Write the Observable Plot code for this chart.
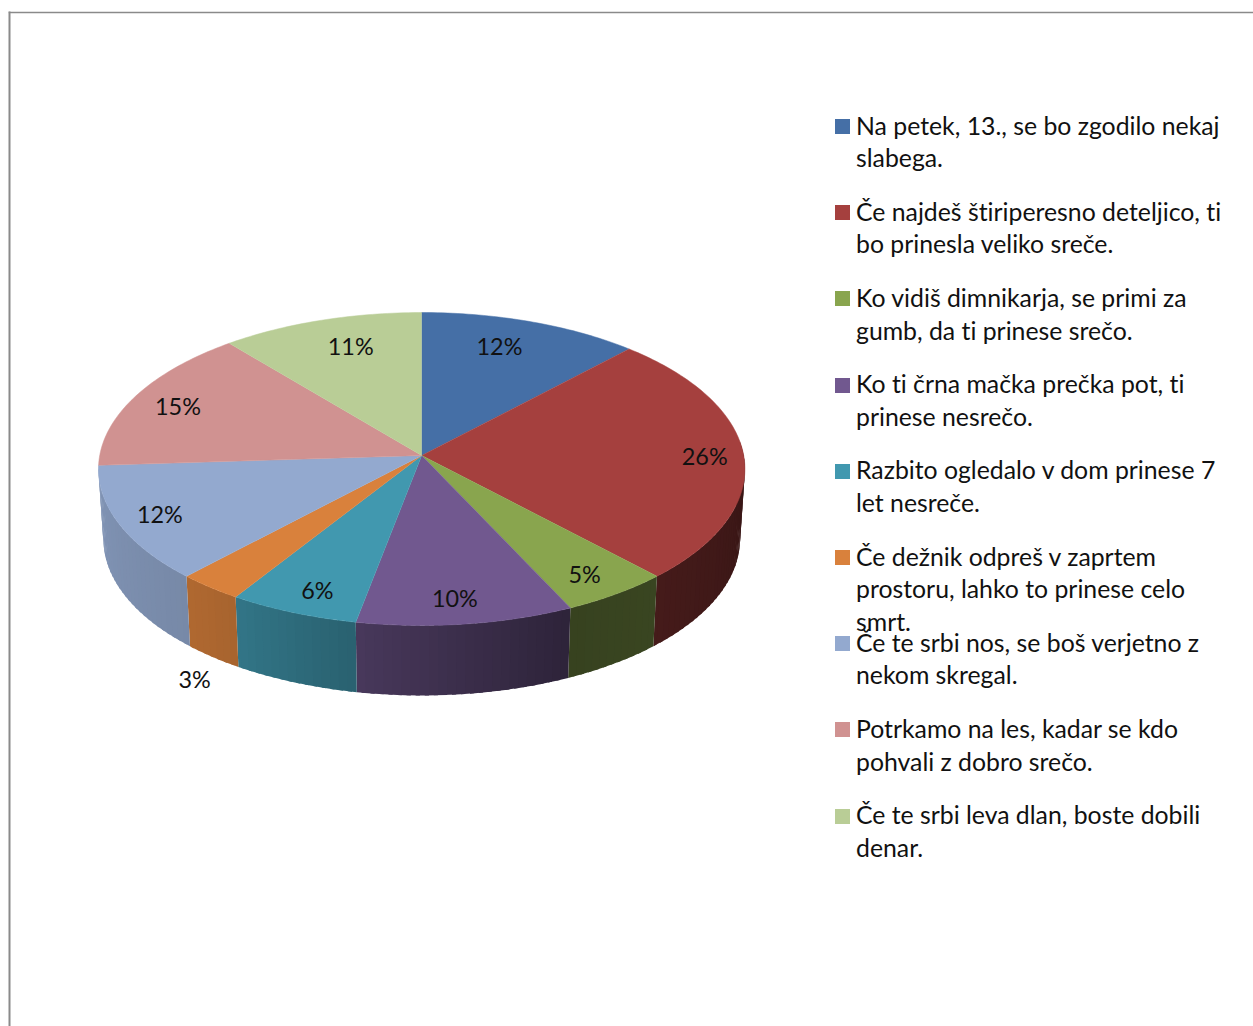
<!DOCTYPE html>
<html><head><meta charset="utf-8">
<script src="https://cdn.jsdelivr.net/npm/d3@7"></script>
<script src="https://cdn.jsdelivr.net/npm/@observablehq/plot@0.6"></script>
<style>
html,body{margin:0;padding:0;background:#fff;overflow:hidden}
#wrap{position:relative;width:1253px;height:1026px}
svg{display:block}
.row{position:absolute;left:835px;width:410px}
.sw{position:absolute;left:0;top:0;width:15px;height:15px}
.tx{position:absolute;left:21px;top:-9.4px;white-space:pre;font:24.8px/32.6px Lato,sans-serif;font-variant-ligatures:none;color:#111}
</style></head><body><div id="wrap"></div>
<script>
const categories = [
  "Na petek, 13., se bo zgodilo nekaj\nslabega.",
  "Če najdeš štiriperesno deteljico, ti\nbo prinesla veliko sreče.",
  "Ko vidiš dimnikarja, se primi za\ngumb, da ti prinese srečo.",
  "Ko ti črna mačka prečka pot, ti\nprinese nesrečo.",
  "Razbito ogledalo v dom prinese 7\nlet nesreče.",
  "Če dežnik odpreš v zaprtem\nprostoru, lahko to prinese celo\nsmrt.",
  "Če te srbi nos, se boš verjetno z\nnekom skregal.",
  "Potrkamo na les, kadar se kdo\npohvali z dobro srečo.",
  "Če te srbi leva dlan, boste dobili\ndenar."
];
const values = [12, 26, 5, 10, 6, 3, 12, 15, 11];
const colors = ["#456FA6","#A5403E","#89A54E","#71588F","#4198AF","#D9813C","#93A9CF","#D09291","#B9CD96"];
// label placement relative to each slice: radial reach and turn (degrees) from mid-angle
const labelReach = [0.785, 0.878, 0.868, 0.864, 0.868, 1.43, 0.871, 0.84, 0.776];
const labelTurn  = [-2.5, 0.84, 1.1, 0.87, -1.3, -11.8, -0.2, -1.2, 2.2];
// wall shading: clockwise angle from top -> brightness
const shadeAngle = [85, 137, 155, 191, 212, 223, 267];
const shadeLevel = [0.32, 0.42, 0.40, 0.64, 0.77, 0.81, 0.88];
const perspective = 0.0863, wallDrop = 70 / 155.3, wallShrink = 0.985;
const wallStart = 85, wallEnd = 266.4;

const shade = d3.scaleLinear(shadeAngle, shadeLevel);
const rad = d => d * Math.PI / 180;
function project(angle, r = 1) {
  const u = r * Math.sin(rad(angle)), v = -r * Math.cos(rad(angle));
  const s = 1 / (1 - perspective * v);
  return {x: u * s, y: v * s};
}
const total = d3.sum(values);
let cum = 0;
const slices = values.map((value, i) => {
  const a0 = cum / total * 360; cum += value; const a1 = cum / total * 360;
  return {i, value, a0, a1, color: colors[i]};
});

const topFace = [], wall = [], labels = [];
slices.forEach(s => {
  topFace.push({id: s.i, color: s.color, ...project(0, 0)});
  for (let a = s.a0; ; a = Math.min(a + 1, s.a1)) {
    topFace.push({id: s.i, color: s.color, ...project(a)});
    if (a >= s.a1) break;
  }
  const mid = (s.a0 + s.a1) / 2 + labelTurn[s.i];
  labels.push({text: s.value + "%", ...project(mid, labelReach[s.i])});
});
// wall strips; each strip overlaps the next so that no seams show
let sid = 0;
const step = 1.5;
slices.forEach(s => {
  const lo = Math.max(s.a0, wallStart), hi = Math.min(s.a1, wallEnd);
  if (hi <= lo) return;
  const fromRight = s.a0 + s.a1 < 360;
  const starts = d3.range(lo, hi, step);
  (fromRight ? starts : starts.reverse()).forEach(a => {
    const b = Math.min(a + step, hi);
    const c = d3.rgb(s.color);
    const k = shade((a + b) / 2);
    const col = d3.rgb(c.r * k, c.g * k, c.b * k).formatHex();
    const p0 = project(fromRight ? a : Math.max(a - 0.7, lo)), p1 = project(fromRight ? Math.min(b + 0.7, hi) : b);
    sid++;
    [p0, p1].forEach(p => wall.push({id: sid, color: col, x: p.x, y: p.y}));
    [p1, p0].forEach(p => wall.push({id: sid, color: col, x: p.x * wallShrink, y: p.y + wallDrop}));
  });
});

const cx = 421.2, cy = 455, R = 322, K = 155.3;
const chart = Plot.plot({
  width: 1253, height: 1026,
  marginLeft: 9, marginTop: 12, marginRight: 0, marginBottom: 0,
  x: {domain: [-1, 1], range: [cx - R, cx + R], axis: null},
  y: {domain: [-1, 1], range: [cy - K, cy + K], axis: null},
  color: {type: "identity"},
  style: {background: "#fff"},
  marks: [
    Plot.frame({anchor: "top", stroke: "#8a8a8a", strokeWidth: 1.5}),
    Plot.frame({anchor: "left", stroke: "#8a8a8a", strokeWidth: 2}),
    Plot.line(wall, {x: "x", y: "y", z: "id", fill: "color", stroke: "none"}),
    Plot.line(topFace, {x: "x", y: "y", z: "id", fill: "color", stroke: "color", strokeWidth: 0.5}),
    Plot.text(labels, {x: "x", y: "y", text: "text", fontSize: 23.4, fontFamily: "Lato", fill: "#111"})
  ]
});
const wrap = document.getElementById("wrap");
wrap.appendChild(chart);
categories.forEach((t, i) => {
  const row = document.createElement("div");
  row.className = "row";
  row.style.top = (119 + 86.2 * i) + "px";
  const sw = document.createElement("div"); sw.className = "sw"; sw.style.background = colors[i];
  const tx = document.createElement("div"); tx.className = "tx"; tx.textContent = t;
  row.append(sw, tx); wrap.appendChild(row);
});
</script></body></html>
